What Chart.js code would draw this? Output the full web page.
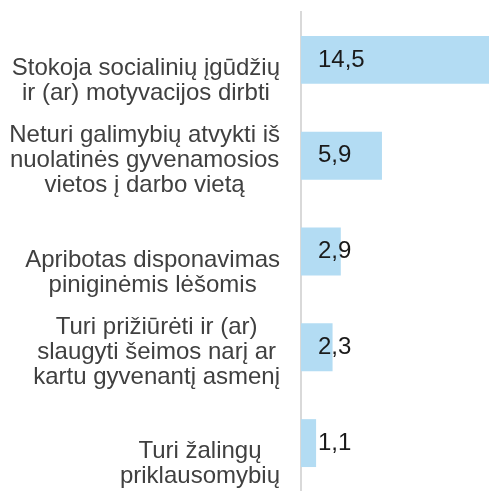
<!DOCTYPE html>
<html>
<head>
<meta charset="utf-8">
<script src="https://cdn.jsdelivr.net/npm/chart.js@4"></script>
<style>
  html, body { margin: 0; padding: 0; background: #fff; }
  #wrap { width: 489px; height: 491px; position: relative; }
</style>
</head>
<body>
<div id="wrap"><canvas id="chart"></canvas></div>
<script>
const categories = [
  ["Stokoja socialinių įgūdžių", "ir (ar) motyvacijos dirbti"],
  ["Neturi galimybių atvykti iš", "nuolatinės gyvenamosios", "vietos į darbo vietą"],
  ["Apribotas disponavimas", "piniginėmis lėšomis"],
  ["Turi prižiūrėti ir (ar)", "slaugyti šeimos narį ar", "kartu gyvenantį asmenį"],
  ["Turi žalingų", "priklausomybių"]
];
const values = [14.5, 5.9, 2.9, 2.3, 1.1];

const FONT = "24px 'Liberation Sans', Arial, sans-serif";
const fmt = v => v.toFixed(1).replace(".", ",");

// y tick labels: block right-aligned, lines centred inside the block
const labelPlugin = {
  id: "labels",
  afterDraw(chart) {
    const { ctx } = chart;
    const y = chart.scales.y;
    const right = y.right - 21;
    ctx.save();
    ctx.font = FONT;
    ctx.fillStyle = "#404040";
    ctx.textAlign = "center";
    ctx.textBaseline = "middle";
    categories.forEach((lines, i) => {
      const w = Math.max(...lines.map(l => ctx.measureText(l).width));
      const cx = right - w / 2;
      const lh = 25;
      const shift = lines.length === 2 ? 21 : 5;
      const top = y.getPixelForTick(i) + shift - (lines.length - 1) * lh / 2;
      lines.forEach((l, k) => ctx.fillText(l, cx, top + k * lh));
    });

    // value labels
    const meta = chart.getDatasetMeta(0);
    ctx.fillStyle = "#1a1a1a";
    ctx.textAlign = "left";
    meta.data.forEach((bar, i) => {
      ctx.fillText(fmt(values[i]), chart.chartArea.left + 17, bar.y);
    });
    ctx.restore();
  }
};

new Chart(document.getElementById("chart"), {
  type: "bar",
  data: {
    labels: categories,
    datasets: [{
      data: values,
      backgroundColor: "#B3DCF3",
      borderWidth: 0,
      barPercentage: 1,
      categoryPercentage: 0.5
    }]
  },
  options: {
    indexAxis: "y",
    responsive: true,
    maintainAspectRatio: false,
    animation: false,
    layout: { padding: { top: 12, right: 0, bottom: 0, left: 0 } },
    plugins: { legend: { display: false }, tooltip: { enabled: false } },
    scales: {
      x: { display: false, min: 0, max: 13.7 },
      y: {
        grid: { display: true, color: "transparent", drawTicks: false },
        border: { display: true, color: "#d9d9d9", width: 2 },
        ticks: { display: false },
        afterFit(scale) { scale.width = 301; }
      }
    }
  },
  plugins: [labelPlugin]
});
</script>
</body>
</html>
